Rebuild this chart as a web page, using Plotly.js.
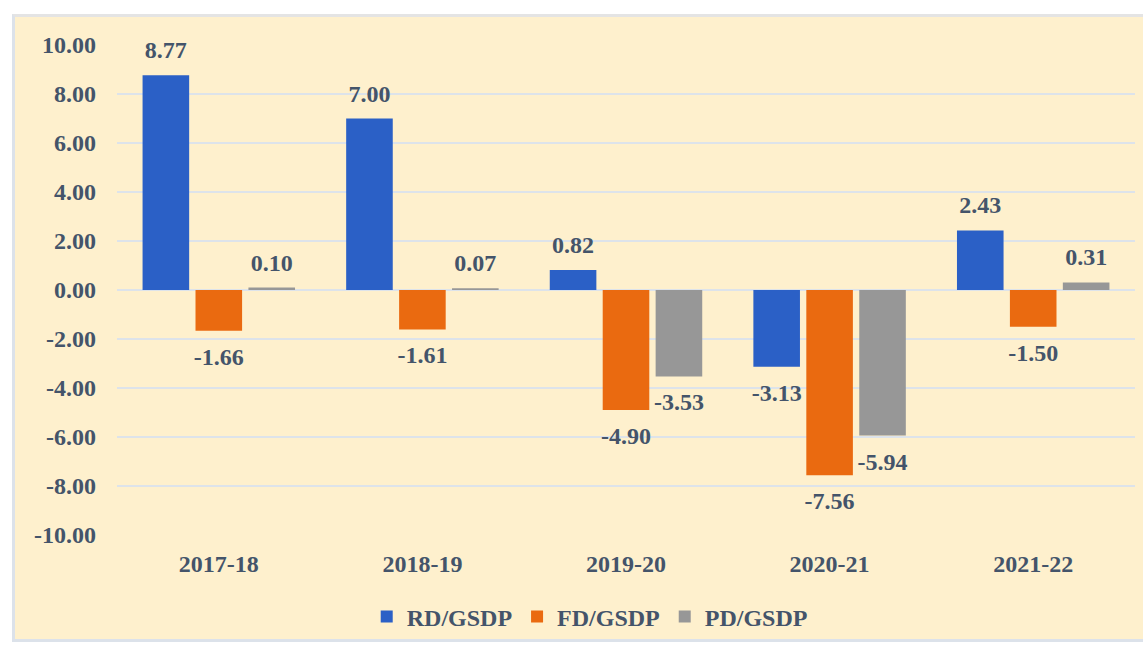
<!DOCTYPE html>
<html>
<head>
<meta charset="utf-8">
<script src="https://cdn.plot.ly/plotly-3.0.1.min.js"></script>
<style>
  html, body { margin: 0; padding: 0; background: #ffffff; }
  #wrap { position: absolute; left: 12px; top: 14px; width: 1131px; height: 628px;
          border-left: 3px solid #DCE2EA; border-top: 3px solid #E4E4E4; border-bottom: 3px solid #DCE2EA;
          box-sizing: border-box; background: #FEF0CD; }
  #chart { width: 1128px; height: 622px; }
</style>
</head>
<body>
<div id="wrap"><div id="chart"></div></div>
<script>
const years = ["2017-18", "2018-19", "2019-20", "2020-21", "2021-22"];
const rdGsdp = [8.77, 7.00, 0.82, -3.13, 2.43];
const fdGsdp = [-1.66, -1.61, -4.90, -7.56, -1.50];
const pdGsdp = [0.10, 0.07, -3.53, -5.94, 0.31];
const yTicks = [10, 8, 6, 4, 2, 0, -2, -4, -6, -8, -10];

const txtColor = "#44546A";
const fontFam = "Liberation Serif, Times New Roman, serif";
const boldFont = (s) => ({family: fontFam, size: s, color: txtColor, weight: "bold"});

function barTrace(name, vals, color, group) {
  return {
    type: "bar", name: name, x: years, y: vals, offsetgroup: group,
    marker: {color: color, line: {width: 0}},
    hoverinfo: "x+y"
  };
}
function labelTrace(vals, group) {
  return {
    type: "scatter", mode: "markers+text", x: years, y: vals, offsetgroup: group,
    showlegend: false, cliponaxis: false, hoverinfo: "skip",
    marker: {size: vals.map(v => v >= 0 ? 16 : 24), color: "rgba(0,0,0,0)", opacity: 0,
             line: {width: 0, color: "rgba(0,0,0,0)"}},
    text: vals.map(v => v.toFixed(2)),
    textposition: vals.map(v => v >= 0 ? "top center" : "bottom center"),
    textfont: boldFont(24)
  };
}

const data = [
  barTrace("RD/GSDP", rdGsdp, "#2B60C6", "a"),
  barTrace("FD/GSDP", fdGsdp, "#EA6A10", "b"),
  barTrace("PD/GSDP", pdGsdp, "#979797", "c"),
  labelTrace(rdGsdp, "a"),
  labelTrace(fdGsdp, "b"),
  labelTrace(pdGsdp, "c")
];

const layout = {
  width: 1128, height: 622,
  margin: {l: 102, r: 8, t: 28, b: 104},
  paper_bgcolor: "rgba(0,0,0,0)", plot_bgcolor: "rgba(0,0,0,0)",
  barmode: "group", bargap: 0.22, bargroupgap: 0.12,
  scattermode: "group", scattergap: 0.22,
  font: boldFont(24),
  showlegend: true,
  legend: {orientation: "h", xref: "container", yref: "container",
           x: 0.5095, xanchor: "center", y: 0.0354, yanchor: "middle",
           font: boldFont(24), traceorder: "normal"},
  xaxis: {type: "category", showgrid: false, zeroline: false, showline: false, ticks: "",
          ticklabelstandoff: 12, tickfont: boldFont(24)},
  yaxis: {range: [-10, 10], tickvals: yTicks, ticktext: yTicks.map(v => v.toFixed(2)),
          showgrid: true, gridcolor: "#DDE3EA", gridwidth: 2,
          zeroline: true, zerolinecolor: "#DDE3EA", zerolinewidth: 2,
          showline: false, ticks: "", ticklabelstandoff: 20, tickfont: boldFont(24)}
};

Plotly.newPlot("chart", data, layout, {displayModeBar: false, staticPlot: true});
</script>
</body>
</html>
